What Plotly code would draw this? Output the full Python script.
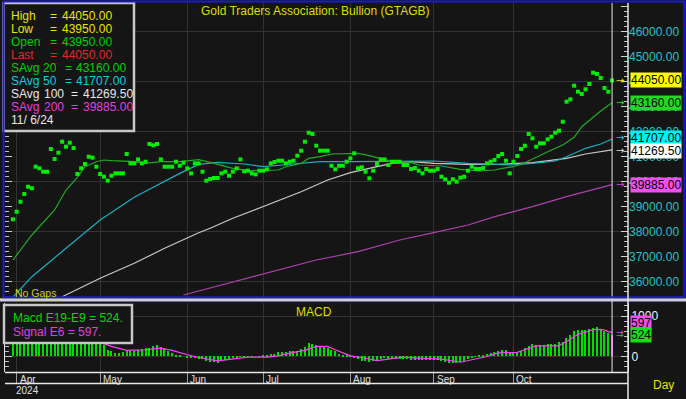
import plotly.graph_objects as go
import pandas as pd

# ---------------- data ----------------
dates = pd.bdate_range("2024-03-29", "2024-11-06").strftime("%Y-%m-%d").tolist()

close = [
    38496, 38800, 39200, 39508, 39800, 39736, 40600, 40536, 40400, 40400,
    41308, 40908, 41160, 41600, 41400, 41560, 41348, 40308, 40536, 40708,
    41000, 40960, 40600, 40308, 40200, 40040, 40240, 40332, 40332, 40332,
    41108, 40732, 40732, 40892, 40732, 40800, 41508, 41456, 41508, 40892,
    40600, 40600, 40600, 40800, 40640, 40760, 40536, 40332, 40732, 40732,
    40400, 40040, 40108, 40148, 40148, 40332, 40400, 40240, 40400, 40536,
    40892, 40416, 40440, 40332, 40292, 40440, 40440, 40496, 40732, 40788,
    40840, 40840, 40732, 40800, 40840, 41040, 41240, 41600, 41960, 41908,
    41440, 41240, 41240, 41240, 40640, 40496, 40640, 40640, 40800, 40936,
    41136, 40536, 40576, 40400, 40136, 40440, 40708, 40892, 40892, 40668,
    40800, 40800, 40800, 40668, 40668, 40508, 40548, 40440, 40332, 40508,
    40440, 40440, 40508, 40200, 40096, 39960, 40096, 40000, 40160, 40200,
    40440, 40600, 40520, 40508, 40548, 40732, 40800, 40868, 41028, 41108,
    40840, 40332, 40800, 41028, 41308, 41440, 41908, 41736, 41400, 41536,
    41536, 41696, 41800, 41960, 42040, 42400, 43200, 43296, 43840, 43600,
    43508, 43696, 43908, 44360, 44308, 44148, 43748, 43600, 44050,
]

sa20_idx = [0, 5, 11, 14, 17, 19, 22, 24, 26, 32, 35, 39, 44, 49, 52, 54, 58, 62, 67, 70,
            72, 76, 78, 81, 84, 88, 91, 94, 97, 100, 105, 107, 113, 118, 123, 127, 129, 132,
            135, 139, 142, 145, 148, 150, 153, 155, 158]
sa20_val = [36868, 37868, 38868, 39668, 40176, 40600, 40800, 40868, 40840, 40800, 40732,
            40800, 40800, 40880, 40776, 40692, 40536, 40440, 40440, 40468, 40600, 40732,
            40932, 41000, 41108, 41136, 41136, 41040, 40932, 40800, 40760, 40668, 40628,
            40496, 40428, 40468, 40536, 40600, 40760, 41068, 41268, 41468, 41776, 42200,
            42600, 42828, 43160]

sa50_idx = [0, 5, 14, 23, 32, 39, 44, 49, 54, 61, 66, 71, 76, 81, 89, 99, 105, 111, 120,
            125, 131, 137, 143, 146, 151, 155, 158]
sa50_val = [35380, 36200, 37336, 38468, 39376, 39936, 40332, 40692, 40772, 40708, 40600,
            40668, 40732, 40800, 40800, 40800, 40828, 40828, 40732, 40692, 40668, 40732,
            40828, 41000, 41336, 41508, 41707]

sa100_idx = [13, 23, 32, 40, 49, 52, 58, 67, 76, 83, 89, 96, 100, 105, 111, 120, 128, 137,
             146, 151, 158]
sa100_val = [35400, 36136, 36736, 37336, 37960, 38136, 38536, 39068, 39600, 40068, 40360,
             40600, 40732, 40800, 40732, 40692, 40692, 40760, 40932, 41108, 41269.5]

sa200_idx = [45, 80, 91, 102, 111, 120, 128, 137, 146, 151, 158]
sa200_val = [35468, 36868, 37200, 37668, 37960, 38268, 38640, 39000, 39400, 39600, 39885]

macd = [
    380, 420, 450, 510, 560, 600, 680, 720, 740, 760, 820, 820, 850, 900, 900, 910, 880,
    720, 640, 590, 560, 520, 440, 360,
    292, 167, 125, 90, 83, 100,
    125, 125, 140, 167, 183, 200, 208, 267, 292, 233,
    183, 125, 83, 42, 20, 0, -20, -42, -42, -60,
    -67, -100, -125, -140, -150, -110, -83, -50, -42, -20,
    -10, -20, -5, -10, 0, 5, 15, 25, 50, 67,
    100, 100, 110, 125, 130, 142, 183, 233, 333, 320,
    292, 233, 233, 200, 167, 125, 60, 40, 40, 20,
    -20, -60, -100, -120, -130, -110, -100, -60, -40, -60,
    -60, -50, -60, -70, -70, -80, -75, -80, -90, -85,
    -90, -80, -90, -120, -140, -160, -150, -150, -130, -110,
    -60, -20, 10, 30, 40, 60, 80, 100, 125, 160,
    160, 94, 94, 119, 136, 218, 260, 317, 288, 288,
    288, 317, 300, 317, 366, 360, 465, 539, 630, 655,
    655, 655, 680, 696, 721, 680, 638, 573, 524,
]

sig_idx = [0, 8, 15, 20, 23, 26, 30, 35, 39, 42, 46, 49, 54, 58, 62, 67, 70, 74, 77, 80,
           83, 85, 89, 92, 96, 99, 103, 107, 113, 118, 121, 125, 128, 133, 134, 135, 136,
           137, 138, 144, 145, 146, 147, 148, 149, 151, 152, 153, 155, 156, 157, 158]
sig_val = [450, 650, 800, 600, 350, 250, 150, 167, 208, 150, 42, -25, -108, -67, -17, -17,
           17, 100, 150, 250, 250, 167, 17, -25, -100, -67, -17, -42, -67, -142, -83, 0,
           90, 104, 136, 178, 200, 227, 260, 260, 326, 366, 424, 489, 548, 598, 638, 662,
           670, 655, 613, 597]

month_dates = ["2024-04-01", "2024-05-01", "2024-06-03", "2024-07-01", "2024-08-01",
               "2024-09-02", "2024-10-01"]
month_labels = ["Apr", "May", "Jun", "Jul", "Aug", "Sep", "Oct"]

legend_labels = ["High", "Low", "Open", "Last", "SAvg 20", "SAvg 50", "SAvg 100", "SAvg 200"]
legend_values = [44050.00, 43950.00, 43950.00, 44050.00, 43160.00, 41707.00, 41269.50, 39885.00]
legend_colors = ["#e6e600", "#e6e600", "#00d000", "#e02828", "#00d000", "#00d0e0",
                 "#e8e8e8", "#e040e0"]
legend_date = "11/ 6/24"

box_values = [44050.00, 43160.00, 41707.00, 41269.50, 39885.00]
box_colors = ["#ffff00", "#22d822", "#00f0f8", "#ffffff", "#f050f0"]
arrow_colors = ["#e6e600", "#22d822", "#00d0e0", "#e0e0e0", "#e040e0"]

macd_last = 524
signal_last = 597

# ---------------- geometry helpers ----------------
W, H = 686, 399
ML, MR, MT, MB = 5, 58, 3, 27
PW = W - ML - MR
PH = H - MT - MB


def px(x):
    return (x - ML) / PW


def py(y):
    return (H - MB - y) / PH


BG = "#151515"
GRID = "#333333"
FONT = "Liberation Sans, Arial, sans-serif"

fig = go.Figure()

# moving averages
ma_specs = [
    (sa200_idx, sa200_val, "#b040b0"),
    (sa100_idx, sa100_val, "#c8c8c8"),
    (sa50_idx, sa50_val, "#18b0c0"),
    (sa20_idx, sa20_val, "#22aa22"),
]
for idx, val, col in ma_specs:
    fig.add_trace(go.Scatter(x=[dates[i] for i in idx], y=val, mode="lines",
                             line=dict(color=col, width=1.2), xaxis="x", yaxis="y",
                             hoverinfo="skip", showlegend=False))

# price dots
fig.add_trace(go.Scatter(x=dates, y=close, mode="markers",
                         marker=dict(symbol="square", size=4, color="#00ee00", line=dict(width=0)),
                         xaxis="x", yaxis="y", showlegend=False))

# dummy for left overlay axis (grid every 2000)
fig.add_trace(go.Scatter(x=[dates[0]], y=[None], xaxis="x", yaxis="y3", showlegend=False,
                         hoverinfo="skip"))

# MACD bars
bar_colors = ["#00dd00"] * (len(macd) - 1) + ["#ff30ff"]
fig.add_trace(go.Bar(x=dates, y=macd, width=0.32, marker=dict(color=bar_colors, line=dict(width=0)),
                     xaxis="x2", yaxis="y2", showlegend=False))
fig.add_trace(go.Scatter(x=[dates[i] for i in sig_idx], y=sig_val, mode="lines",
                         line=dict(color="#ff40ff", width=1.2), xaxis="x2", yaxis="y2",
                         showlegend=False, hoverinfo="skip"))

xr = [-2.08, 162.2]
xcommon = dict(type="category", categoryorder="array", categoryarray=dates, range=xr,
               tickmode="array", tickvals=month_dates, showgrid=True, gridcolor=GRID,
               gridwidth=1, zeroline=False, showticklabels=False, fixedrange=True)

fig.update_layout(
    width=W, height=H, autosize=False,
    margin=dict(l=ML, r=MR, t=MT, b=MB, pad=0),
    paper_bgcolor=BG, plot_bgcolor=BG,
    font=dict(family=FONT, size=12, color="#e0e0e0"),
    showlegend=False, bargap=0,
    xaxis=dict(**xcommon, anchor="y", domain=[0, 1], ticks=""),
    xaxis2=dict(**xcommon, anchor="y2", domain=[0, 1], matches="x", ticks="outside",
                ticklen=11, tickcolor="#9a9a9a", tickwidth=1),
    yaxis=dict(domain=[py(297), 1], range=[35388, 47148], side="right", anchor="x",
               tickmode="linear", tick0=36000, dtick=1000, tickformat=".2f",
               tickfont=dict(color="#20c4c4", size=12), ticks="inside", ticklen=7,
               tickcolor="#d0d0d0", showgrid=False, zeroline=False, showline=False,
               mirror="ticks",
               minor=dict(dtick=200, tick0=36000, ticks="inside", ticklen=4,
                          tickcolor="#c0c0c0", showgrid=False)),
    yaxis3=dict(overlaying="y", side="left", range=[35388, 47148], tickmode="linear",
                tick0=36000, dtick=2000, showgrid=True, gridcolor=GRID, gridwidth=1,
                showticklabels=False, ticks="inside", ticklen=4, tickcolor="#c0c0c0",
                zeroline=False, anchor="x",
                minor=dict(dtick=200, tick0=36000, ticks="inside", ticklen=3,
                           tickcolor="#c0c0c0", showgrid=False)),
    yaxis2=dict(domain=[0, py(303)], range=[-383, 1321], side="right", anchor="x2",
                tickmode="array", tickvals=[0, 1000], ticktext=["0", "1000"],
                tickfont=dict(color="#f0f0f0", size=12), ticks="inside", ticklen=7,
                tickcolor="#d0d0d0", showgrid=True, gridcolor=GRID, zeroline=False,
                showline=True, linecolor="#e8e8e8", linewidth=1, mirror="ticks",
                minor=dict(dtick=125, tick0=0, ticks="inside", ticklen=4,
                           tickcolor="#c0c0c0", showgrid=False)),
)

shapes = []
# legend box
shapes.append(dict(type="rect", xref="paper", yref="paper", x0=px(3.5), x1=px(134),
                   y0=py(131), y1=py(3), fillcolor=BG, line=dict(color="#c8c8c8", width=2.5),
                   layer="above"))
# MACD legend box
shapes.append(dict(type="rect", xref="paper", yref="paper", x0=px(4), x1=px(132),
                   y0=py(343), y1=py(305), fillcolor=BG, line=dict(color="#c8c8c8", width=2.5),
                   layer="above"))
# cursor (current date) line
shapes.append(dict(type="line", xref="x", yref="paper", x0=dates[-1], x1=dates[-1],
                   y0=py(372), y1=py(3), line=dict(color="#e8e8e8", width=1), layer="above"))
# separator band between panes
shapes.append(dict(type="rect", xref="paper", yref="paper", x0=px(0), x1=px(W),
                   y0=py(301.5), y1=py(298.3), fillcolor="#cfcfcf", line=dict(width=0),
                   layer="above"))
# blue selection frame
shapes.append(dict(type="rect", xref="paper", yref="paper", x0=px(3.5), x1=px(684.5),
                   y0=py(297.3), y1=py(1.5), line=dict(color="#1c1cd0", width=2),
                   layer="above"))
# right axis line
shapes.append(dict(type="line", xref="paper", yref="paper", x0=px(628), x1=px(628),
                   y0=py(399), y1=py(3), line=dict(color="#e8e8e8", width=1.5), layer="above"))
# date band lines
shapes.append(dict(type="line", xref="paper", yref="paper", x0=px(5), x1=px(628),
                   y0=py(372.5), y1=py(372.5), line=dict(color="#e8e8e8", width=1.5),
                   layer="above"))
shapes.append(dict(type="line", xref="paper", yref="paper", x0=px(5), x1=px(628),
                   y0=py(383.5), y1=py(383.5), line=dict(color="#e8e8e8", width=1.5),
                   layer="above"))
fig.update_layout(shapes=shapes)

ann = []


def text(x, y, s, color, size=12, xanchor="left", **kw):
    ann.append(dict(x=px(x), y=py(y), xref="paper", yref="paper", text=s, showarrow=False,
                    xanchor=xanchor, yanchor="middle", font=dict(color=color, size=size,
                                                                 family=FONT), **kw))


# title and pane labels
text(315.5, 11, "Gold Traders Association: Bullion (GTAGB)", "#dede00", 12, "center")
text(314, 312, "MACD", "#dede00", 12, "center")
text(13, 292.5, "No Gaps", "#d0d000", 10.5)
text(651, 385, "Day", "#e6e600", 12)
text(14, 390.5, "2024", "#e0e0e0", 10)

# legend text
line_y = [15.7, 28.7, 41.7, 54.7, 67.7, 80.7, 93.7, 106.7]
for i, (lab, val, col) in enumerate(zip(legend_labels, legend_values, legend_colors)):
    y = line_y[i]
    parts = lab.split(" ")
    if len(parts) == 1:
        text(9, y, parts[0], col)
        text(47.5, y, "=", col)
        text(60, y, f"{val:.2f}", col)
    else:
        text(9, y, parts[0], col)
        if len(parts[1]) == 2:
            text(41, y, parts[1], col)
            text(62.5, y, "=", col)
            text(74, y, f"{val:.2f}", col)
        else:
            text(42, y, parts[1], col)
            text(68.5, y, "=", col)
            text(80.5, y, f"{val:.2f}", col)
text(9, 119.7, legend_date, "#e8e8e8")

# MACD legend
text(11, 318.3, f"Macd E19-E9 = {macd_last}.", "#00d800")
text(11, 332.3, f"Signal E6 = {signal_last}.", "#e040e0")

# value boxes on the price axis
box_shift = [0, 0, 1.5, -1, 0]
for v, bg, ac, sh in zip(box_values, box_colors, arrow_colors, box_shift):
    ann.append(dict(x=px(629.5), y=v, xref="paper", yref="y", text=f"{v:.2f}",
                    showarrow=False, xanchor="left", yanchor="middle", yshift=sh,
                    bgcolor=bg, borderpad=0, font=dict(color="#000000", size=12, family=FONT)))
    ann.append(dict(x=px(620), y=v, xref="paper", yref="y", text="→", showarrow=False,
                    xanchor="center", yanchor="middle", yshift=sh,
                    font=dict(color=ac, size=10, family="DejaVu Sans")))

# value boxes on MACD axis
for v, bg, sh in [(signal_last, "#f050f0", 9), (macd_last, "#10e010", 0)]:
    ann.append(dict(x=px(629.5), y=v, xref="paper", yref="y2", text=str(v),
                    showarrow=False, xanchor="left", yanchor="middle", yshift=sh,
                    bgcolor=bg, borderpad=0, font=dict(color="#000000", size=12, family=FONT)))
for v, ac in [(signal_last, "#e040e0"), (macd_last, "#10d010")]:
    ann.append(dict(x=px(620), y=v, xref="paper", yref="y2", text="→", showarrow=False,
                    xanchor="center", yanchor="middle",
                    font=dict(color=ac, size=9, family="DejaVu Sans")))

# month labels on the date band
for d, lab in zip(month_dates, month_labels):
    ann.append(dict(x=d, y=py(379.5), xref="x2", yref="paper", text=lab, showarrow=False,
                    xanchor="left", yanchor="middle", xshift=1,
                    font=dict(color="#e0e0e0", size=10, family=FONT)))

fig.update_layout(annotations=ann)

fig.write_html("out.html", config={"displayModeBar": False},
               post_script="document.body.style.margin='0';document.body.style.overflow='hidden';")
